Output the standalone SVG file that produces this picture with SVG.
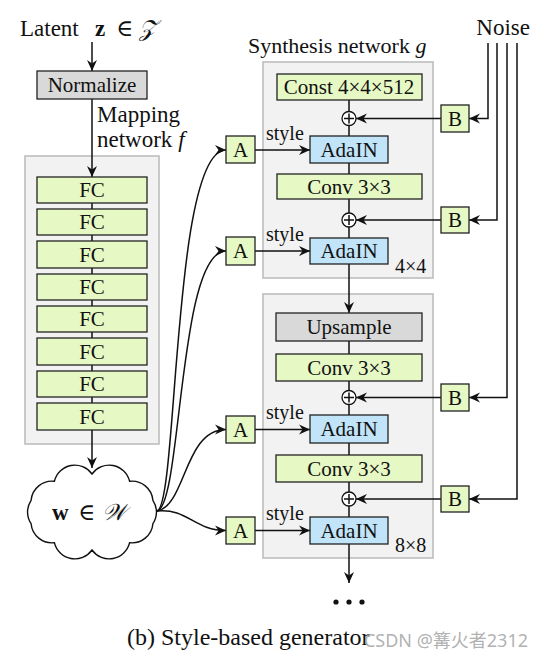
<svg xmlns="http://www.w3.org/2000/svg" width="548" height="659" viewBox="0 0 548 659">
<style>
text{font-family:"Liberation Serif","DejaVu Serif",serif;fill:#111}
.t{font-size:21px;text-anchor:middle}
.lbl{font-size:23px}
.sty{font-size:20px}
.g{fill:#e6f8c4;stroke:#222;stroke-width:1.3}
.b{fill:#c2e4f8;stroke:#222;stroke-width:1.3}
.gr{fill:#d9d9d9;stroke:#222;stroke-width:1.3}
.ct{fill:#f2f2f2;stroke:#bdbdbd;stroke-width:1.6}
.ln{fill:none;stroke:#111;stroke-width:1.5}
.ar{fill:none;stroke:#111;stroke-width:1.5;marker-end:url(#ah)}
.pl{fill:#fff;stroke:#111;stroke-width:1.3}
</style>
<defs>
<marker id="ah" viewBox="-11 -6 12 12" refX="0" refY="0" markerWidth="12" markerHeight="12" orient="auto" markerUnits="userSpaceOnUse">
<path d="M0,0 L-11,-5 L-7.5,0 L-11,5 Z" fill="#111"/>
</marker>
</defs>

<!-- containers -->
<g id="mapping-network">
<rect class="ct" x="25" y="156" width="134" height="288"/>
</g>
<g id="synthesis-block-4x4">
<rect class="ct" x="263" y="62" width="170" height="216"/>
<text class="sty" x="395" y="273">4×4</text>
</g>
<g id="synthesis-block-8x8">
<rect class="ct" x="263" y="294" width="170" height="264"/>
<text class="sty" x="395" y="552">8×8</text>
</g>

<!-- labels -->
<g id="latent">
<text class="lbl" x="20" y="36">Latent<tspan x="95" font-weight="bold">z</tspan><tspan x="116">∈</tspan><tspan x="139" font-style="italic">𝒵</tspan></text>
</g>
<g id="mapping-label">
<text class="lbl" x="97" y="122">Mapping</text>
<text class="lbl" x="97" y="147">network <tspan font-style="italic">f</tspan></text>
</g>
<g id="synthesis-label">
<text class="lbl" x="248" y="53" style="font-size:22px">Synthesis network <tspan font-style="italic">g</tspan></text>
</g>
<g id="noise-label">
<text class="lbl" x="530" y="35" text-anchor="end">Noise</text>
</g>

<!-- connectors -->
<g id="connectors">
<path class="ar" d="M92,42 V71"/>
<path class="ar" d="M92,99 V177"/>
<path class="ln" d="M92,203 V209 M92,235 V241 M92,268 V274 M92,300 V306 M92,332 V338 M92,365 V371 M92,397 V403"/>
<path class="ar" d="M92,430 V468"/>
<!-- w to A -->
<path class="ar" d="M157,511 C178,506 172,150 226,150"/>
<path class="ar" d="M157,511 C182,506 178,251 226,251"/>
<path class="ar" d="M157,511 C186,506 184,429.5 226,429.5"/>
<path class="ar" d="M157,511 C188,508 194,530.5 226,530.5"/>
<!-- A to AdaIN -->
<path class="ar" d="M255,150 H310"/>
<path class="ar" d="M255,251 H310"/>
<path class="ar" d="M255,429.5 H310"/>
<path class="ar" d="M255,530.5 H310"/>
<!-- synthesis vertical -->
<path class="ln" d="M349,100 V111.5 M349,125.5 V136 M349,163 V174 M349,199 V213 M349,227 V238"/>
<path class="ar" d="M349,264 V313"/>
<path class="ln" d="M349,341 V354 M349,381 V390.5 M349,404.5 V415 M349,443 V455 M349,482 V492 M349,506 V517"/>
<path class="ar" d="M349,544 V583"/>
<!-- B to plus -->
<path class="ar" d="M441,118.5 H356"/>
<path class="ar" d="M441,220 H356"/>
<path class="ar" d="M441,397.5 H356"/>
<path class="ar" d="M441,499 H356"/>
<!-- noise to B -->
<path class="ar" d="M488,43 V118.5 H469"/>
<path class="ar" d="M497,43 V220 H469"/>
<path class="ar" d="M507,43 V397.5 H469"/>
<path class="ar" d="M517,43 V499 H469"/>
</g>

<!-- mapping nodes -->
<g id="normalize"><rect class="gr" x="37" y="71" width="110" height="28"/><text class="t" x="92" y="92">Normalize</text></g>
<g id="fc1"><rect class="g" x="37" y="177" width="110" height="26"/><text class="t" x="92" y="197">FC</text></g>
<g id="fc2"><rect class="g" x="37" y="209" width="110" height="26"/><text class="t" x="92" y="229">FC</text></g>
<g id="fc3"><rect class="g" x="37" y="241" width="110" height="27"/><text class="t" x="92" y="262">FC</text></g>
<g id="fc4"><rect class="g" x="37" y="274" width="110" height="26"/><text class="t" x="92" y="294">FC</text></g>
<g id="fc5"><rect class="g" x="37" y="306" width="110" height="26"/><text class="t" x="92" y="326">FC</text></g>
<g id="fc6"><rect class="g" x="37" y="338" width="110" height="27"/><text class="t" x="92" y="359">FC</text></g>
<g id="fc7"><rect class="g" x="37" y="371" width="110" height="26"/><text class="t" x="92" y="391">FC</text></g>
<g id="fc8"><rect class="g" x="37" y="403" width="110" height="27"/><text class="t" x="92" y="424">FC</text></g>

<g id="w-cloud">
<path d="M92,474 A21,21 0 0 1 129.6,481.3 A21,21 0 0 1 152.9,500.3 A21,21 0 0 1 152.9,523.7 A21,21 0 0 1 129.6,542.7 A21,21 0 0 1 92,550 A21,21 0 0 1 54.4,542.7 A21,21 0 0 1 31.1,523.7 A21,21 0 0 1 31.1,500.3 A21,21 0 0 1 54.4,481.3 A21,21 0 0 1 92,474 Z" fill="#fff" stroke="#111" stroke-width="1.4"/>
<text class="lbl" x="52" y="520"><tspan font-weight="bold">w</tspan><tspan x="78">∈</tspan><tspan x="102" font-style="italic">𝒲</tspan></text>
</g>

<!-- A boxes -->
<g id="A1"><rect class="g" x="226" y="136" width="29" height="27"/><text class="t" x="240.5" y="157">A</text></g>
<g id="A2"><rect class="g" x="226" y="237" width="29" height="28"/><text class="t" x="240.5" y="258">A</text></g>
<g id="A3"><rect class="g" x="226" y="416" width="29" height="27"/><text class="t" x="240.5" y="437">A</text></g>
<g id="A4"><rect class="g" x="226" y="517" width="29" height="27"/><text class="t" x="240.5" y="538">A</text></g>

<!-- B boxes -->
<g id="B1"><rect class="g" x="441" y="105" width="28" height="27"/><text class="t" x="455" y="126">B</text></g>
<g id="B2"><rect class="g" x="441" y="207" width="28" height="26"/><text class="t" x="455" y="227">B</text></g>
<g id="B3"><rect class="g" x="441" y="384" width="28" height="27"/><text class="t" x="455" y="405">B</text></g>
<g id="B4"><rect class="g" x="441" y="486" width="28" height="26"/><text class="t" x="455" y="506">B</text></g>

<!-- style labels -->
<g id="style-labels">
<text class="sty" x="266" y="140">style</text>
<text class="sty" x="266" y="241">style</text>
<text class="sty" x="266" y="419">style</text>
<text class="sty" x="266" y="520">style</text>
</g>

<!-- block 1 -->
<g id="const"><rect class="g" x="277" y="74" width="145" height="26"/><text class="t" x="349" y="94">Const 4×4×512</text></g>
<g id="plus1"><circle class="pl" cx="349" cy="118.5" r="7"/><path class="ln" d="M344,118.5 H354 M349,113.5 V123.5" stroke-width="1.1"/></g>
<g id="adain1"><rect class="b" x="310" y="136" width="78" height="27"/><text class="t" x="349" y="157">AdaIN</text></g>
<g id="conv1"><rect class="g" x="277" y="174" width="145" height="25"/><text class="t" x="349" y="194">Conv 3×3</text></g>
<g id="plus2"><circle class="pl" cx="349" cy="220" r="7"/><path class="ln" d="M344,220 H354 M349,215 V225" stroke-width="1.1"/></g>
<g id="adain2"><rect class="b" x="310" y="238" width="78" height="26"/><text class="t" x="349" y="258">AdaIN</text></g>

<!-- block 2 -->
<g id="upsample"><rect class="gr" x="276" y="313" width="146" height="28"/><text class="t" x="349" y="334">Upsample</text></g>
<g id="conv2"><rect class="g" x="276" y="354" width="146" height="27"/><text class="t" x="349" y="375">Conv 3×3</text></g>
<g id="plus3"><circle class="pl" cx="349" cy="397.5" r="7"/><path class="ln" d="M344,397.5 H354 M349,392.5 V402.5" stroke-width="1.1"/></g>
<g id="adain3"><rect class="b" x="310" y="415" width="78" height="28"/><text class="t" x="349" y="436">AdaIN</text></g>
<g id="conv3"><rect class="g" x="276" y="455" width="146" height="27"/><text class="t" x="349" y="476">Conv 3×3</text></g>
<g id="plus4"><circle class="pl" cx="349" cy="499" r="7"/><path class="ln" d="M344,499 H354 M349,494 V504" stroke-width="1.1"/></g>
<g id="adain4"><rect class="b" x="310" y="517" width="78" height="27"/><text class="t" x="349" y="538">AdaIN</text></g>

<g id="ellipsis">
<circle cx="336" cy="602" r="2.6" fill="#111"/>
<circle cx="349" cy="602" r="2.6" fill="#111"/>
<circle cx="362" cy="602" r="2.6" fill="#111"/>
</g>

<g id="caption">
<text class="lbl" x="127" y="645" style="font-size:24px">(b) Style-based generator</text>
<text x="528" y="647" text-anchor="end" style="font-family:'Noto Sans','Noto Sans CJK SC',sans-serif;font-size:18px;fill:#a8a8a8;fill-opacity:0.9">CSDN @篝火者2312</text>
</g>
</svg>
